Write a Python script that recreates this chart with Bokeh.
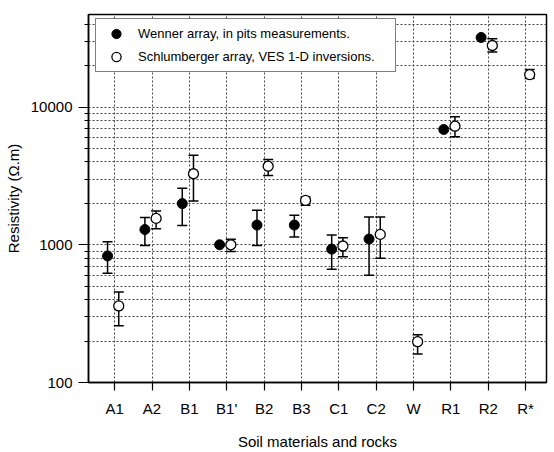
from bokeh.plotting import figure
from bokeh.models import (Range1d, FixedTicker, Whisker, TeeHead, ColumnDataSource,
                          Legend, LegendItem)
from bokeh.embed import file_html
from bokeh.resources import INLINE

# ---- data ----
categories = ["A1", "A2", "B1", "B1'", "B2", "B3", "C1", "C2", "W", "R1", "R2", "R*"]

wenner = [830, 1290, 1990, 1000, 1390, 1390, 930, 1100, None, 6870, 32000, None]
wenner_low = [620, 990, 1380, None, 990, 1140, 665, 600, None, None, None, None]
wenner_high = [1050, 1580, 2570, None, 1780, 1640, 1180, 1590, None, None, None, None]

schlum = [360, 1555, 3280, 1000, 3720, 2100, 980, 1190, 198, 7260, 28000, 17200]
schlum_low = [258, 1310, 2080, 893, 3190, 1940, 817, 798, 161, 6080, 25100, 16100]
schlum_high = [455, 1760, 4460, 1096, 4170, 2220, 1127, 1590, 222, 8490, 31300, 18700]

y_major = [100, 1000, 10000]
y_minor = [200, 300, 400, 500, 600, 700, 800, 900,
           2000, 3000, 4000, 5000, 6000, 7000, 8000, 9000,
           20000, 30000, 40000]

FONT = "Liberation Sans"

positions = list(range(1, len(categories) + 1))
OFF_W, OFF_S = -0.19, 0.11


def series(vals, lo, hi, off):
    x, y, xe, l, u = [], [], [], [], []
    for pos, v, a, b in zip(positions, vals, lo, hi):
        if v is None:
            continue
        x.append(pos + off)
        y.append(v)
        if a is not None:
            xe.append(pos + off)
            l.append(a)
            u.append(b)
    return dict(x=x, y=y), dict(x=xe, lower=l, upper=u)


p = figure(width=554, height=452,
           x_range=Range1d(0.3, 12.56), y_range=Range1d(100, 47000),
           y_axis_type="log", output_backend="svg", toolbar_location=None,
           min_border_left=88, min_border_right=8, min_border_top=14,
           min_border_bottom=69)
p.background_fill_color = "white"
p.border_fill_color = "white"
p.outline_line_color = "black"
p.outline_line_width = 1.5

# axes
p.xaxis.ticker = FixedTicker(ticks=positions)
p.xaxis.major_label_overrides = {pos: c for pos, c in zip(positions, categories)}
p.yaxis.ticker = FixedTicker(ticks=y_major, minor_ticks=y_minor)
p.yaxis.major_label_overrides = {v: str(v) for v in y_major}

for ax in (p.xaxis[0], p.yaxis[0]):
    ax.axis_line_color = "black"
    ax.axis_line_width = 1.5
    ax.major_tick_line_color = "black"
    ax.major_tick_line_width = 1.2
    ax.minor_tick_line_color = "black"
    ax.major_tick_in = 0
    ax.minor_tick_in = 0
    ax.major_label_text_font = FONT
    ax.major_label_text_font_size = "15px"
    ax.major_label_text_color = "black"
    ax.axis_label_text_font = FONT
    ax.axis_label_text_font_size = "15px"
    ax.axis_label_text_font_style = "normal"
    ax.axis_label_text_color = "black"

p.xaxis.major_tick_out = 8
p.xaxis.minor_tick_line_color = None
p.xaxis.major_label_standoff = 9
p.xaxis.axis_label = "Soil materials and rocks"
p.xaxis.axis_label_standoff = 13

p.yaxis.major_tick_out = 10
p.yaxis.minor_tick_out = 4
p.yaxis.major_label_standoff = 6
p.yaxis.axis_label = "Resistivity (\u03a9.m)"
p.yaxis.axis_label_standoff = 6

# grids
p.xgrid.ticker = FixedTicker(ticks=positions)
p.ygrid.ticker = FixedTicker(ticks=y_major, minor_ticks=y_minor)
for g in (p.xgrid[0], p.ygrid[0]):
    g.grid_line_color = "#444444"
    g.grid_line_dash = "2 2"
    g.grid_line_width = 1
p.ygrid.minor_grid_line_color = "#444444"
p.ygrid.minor_grid_line_dash = "2 2"
p.ygrid.minor_grid_line_width = 1

# series
w_pts, w_err = series(wenner, wenner_low, wenner_high, OFF_W)
s_pts, s_err = series(schlum, schlum_low, schlum_high, OFF_S)

for err in (w_err, s_err):
    src = ColumnDataSource(err)
    wh = Whisker(source=src, base="x", lower="lower", upper="upper",
                 dimension="height", line_color="black", line_width=1.5,
                 upper_head=TeeHead(size=10, line_color="black", line_width=1.5),
                 lower_head=TeeHead(size=10, line_color="black", line_width=1.5))
    p.add_layout(wh)

r_w = p.scatter("x", "y", source=ColumnDataSource(w_pts), size=10,
                fill_color="black", line_color="black", line_width=1)
r_s = p.scatter("x", "y", source=ColumnDataSource(s_pts), size=10,
                fill_color="white", line_color="black", line_width=1.3)

legend = Legend(items=[
    LegendItem(label="Wenner array, in pits measurements.", renderers=[r_w]),
    LegendItem(label="Schlumberger array, VES 1-D inversions.", renderers=[r_s]),
], location=(7, 310))
legend.label_text_font = FONT
legend.label_text_font_size = "13px"
legend.label_text_color = "black"
legend.padding = 3
legend.spacing = 0
legend.glyph_height = 23
legend.label_height = 17
legend.glyph_width = 34
legend.label_standoff = 5
legend.label_width = 254
legend.border_line_color = "black"
legend.border_line_width = 1.5
legend.background_fill_color = "white"
legend.background_fill_alpha = 1
legend.margin = 0
p.add_layout(legend, "center")

open("out.html", "w").write(file_html(p, INLINE))
